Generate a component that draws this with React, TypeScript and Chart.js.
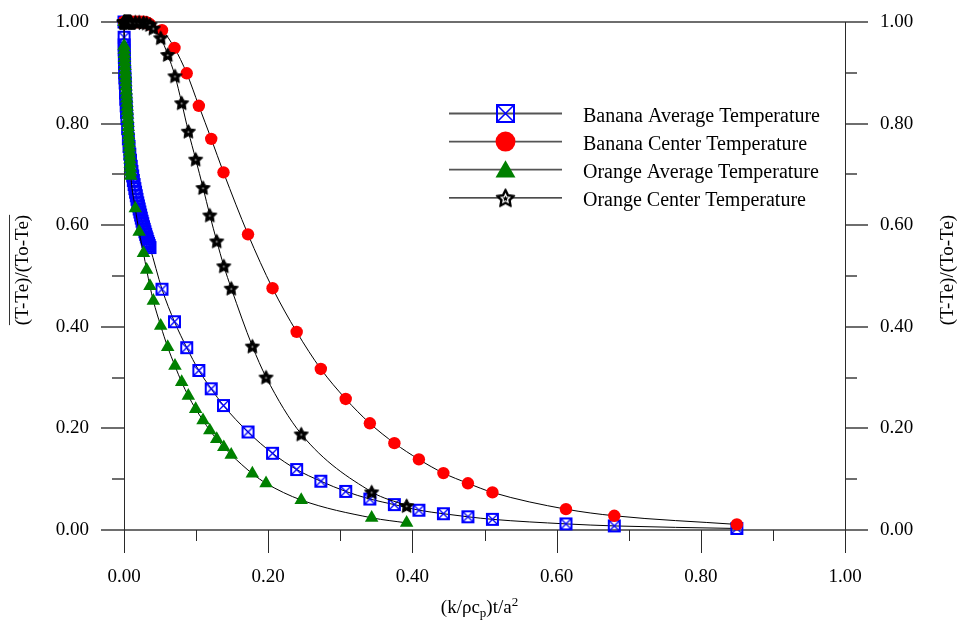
import React, { useEffect, useRef } from 'react';
import { Chart, registerables } from 'chart.js';

Chart.register(...registerables);

// ---------- data ----------
const bananaX = [
  0, 0.0001, 0.0002, 0.0003, 0.0005, 0.0007, 0.001, 0.0013, 0.0016, 0.002, 0.0025,
  0.003, 0.0035, 0.004, 0.005, 0.006, 0.007, 0.008, 0.009, 0.01, 0.011, 0.012,
  0.013, 0.014, 0.015, 0.016, 0.017, 0.018, 0.019, 0.02, 0.021, 0.022, 0.023,
  0.024, 0.025, 0.026, 0.027, 0.028, 0.029, 0.03, 0.031, 0.032, 0.033, 0.034,
  0.035, 0.036,
  0.0527, 0.07, 0.087, 0.1038, 0.121, 0.138, 0.172, 0.206, 0.2395, 0.273, 0.3075,
  0.341, 0.375, 0.409, 0.443, 0.477, 0.511, 0.613, 0.68, 0.85,
];
const bananaAverage = [
  1.0, 0.97, 0.955, 0.945, 0.93, 0.917, 0.9, 0.89, 0.88, 0.86, 0.848,
  0.835, 0.822, 0.81, 0.79, 0.77, 0.755, 0.74, 0.728, 0.716, 0.706, 0.697,
  0.688, 0.68, 0.672, 0.665, 0.658, 0.651, 0.644, 0.638, 0.632, 0.626, 0.62,
  0.614, 0.608, 0.603, 0.597, 0.592, 0.587, 0.582, 0.577, 0.573, 0.568, 0.564,
  0.56, 0.556,
  0.474, 0.41, 0.359, 0.314, 0.278, 0.245, 0.193, 0.151, 0.119, 0.096, 0.076,
  0.061, 0.05, 0.039, 0.032, 0.026, 0.021, 0.012, 0.008, 0.003,
];
const bananaCenter = [
  1.0, 1.0, 1.0, 1.0, 1.0, 1.0, 1.0, 1.0, 1.0, 1.0, 1.0,
  1.0, 1.0, 1.0, 1.0, 1.0, 1.0, 1.0, 1.0, 1.0, 1.0, 1.0,
  1.0, 1.0, 1.0, 1.0, 1.0, 1.0, 1.0, 1.0, 1.0, 1.0, 1.0,
  1.0, 1.0, 1.0, 1.0, 1.0, 1.0, 0.999, 0.999, 0.998, 0.998, 0.997,
  0.996, 0.995,
  0.984, 0.949, 0.899, 0.835, 0.77, 0.704, 0.582, 0.476, 0.39, 0.317, 0.258,
  0.21, 0.171, 0.139, 0.112, 0.092, 0.074, 0.041, 0.028, 0.011,
];
const orangeX = [
  0, 0.0002, 0.0004, 0.0006, 0.0008, 0.0011, 0.0014, 0.0017, 0.002, 0.0023, 0.0026,
  0.0029, 0.0032, 0.0035, 0.0038, 0.0041, 0.0044, 0.0047, 0.005, 0.0053, 0.0056,
  0.0059, 0.0062, 0.0065, 0.0068, 0.0071, 0.0074, 0.0077, 0.008, 0.0083, 0.0086,
  0.0089, 0.0092, 0.0095,
  0.0157, 0.021, 0.027, 0.0314, 0.036, 0.0407, 0.0509, 0.0606, 0.0707, 0.08, 0.0892,
  0.0994, 0.1096, 0.119, 0.1286, 0.1384, 0.1487, 0.178, 0.197, 0.2458, 0.3435, 0.392,
];
const orangeAverage = [
  1.0, 0.953, 0.945, 0.937, 0.929, 0.921, 0.913, 0.905, 0.897, 0.889, 0.881,
  0.873, 0.865, 0.857, 0.849, 0.841, 0.833, 0.825, 0.817, 0.809, 0.801,
  0.793, 0.785, 0.777, 0.769, 0.761, 0.753, 0.745, 0.737, 0.729, 0.721,
  0.713, 0.705, 0.697,
  0.633, 0.587, 0.545, 0.512, 0.48, 0.451, 0.402, 0.36, 0.323, 0.291, 0.264,
  0.238, 0.216, 0.196, 0.179, 0.163, 0.148, 0.111, 0.092, 0.059, 0.024, 0.014,
];
const orangeCenter = [
  1.0, 1.0, 1.0, 1.0, 1.0, 1.0, 1.0, 1.0, 1.0, 1.0, 1.0,
  1.0, 1.0, 1.0, 1.0, 1.0, 1.0, 1.0, 1.0, 1.0, 1.0,
  1.0, 1.0, 1.0, 1.0, 1.0, 1.0, 1.0, 1.0, 1.0, 1.0,
  1.0, 1.0, 1.0,
  1.0, 1.0, 0.999, 0.998, 0.995, 0.988, 0.969, 0.936, 0.894, 0.841, 0.785,
  0.73, 0.674, 0.62, 0.569, 0.52, 0.476, 0.362, 0.301, 0.189, 0.075, 0.048,
];
const seriesNames = [
  'Banana Average Temperature',
  'Banana Center Temperature',
  'Orange Average Temperature',
  'Orange Center Temperature',
];
const labelTicks = [0, 0.2, 0.4, 0.6, 0.8, 1.0];
const allTicks = [0, 0.1, 0.2, 0.3, 0.4, 0.5, 0.6, 0.7, 0.8, 0.9, 1.0];
const yTitle = '(T-Te)/(To-Te)';

const SERIF = '"Liberation Serif", "Times New Roman", serif';

// ---------- markers ----------
function makeBoxX(outer: number, lw: number, xlw: number) {
  const pad = 1;
  const s = outer + pad * 2;
  const c = document.createElement('canvas');
  c.width = s;
  c.height = s;
  const g = c.getContext('2d')!;
  g.strokeStyle = '#0000ff';
  g.lineWidth = lw;
  const o = pad + lw / 2;
  const e = pad + outer - lw / 2;
  g.strokeRect(o, o, e - o, e - o);
  g.lineWidth = xlw;
  g.beginPath();
  g.moveTo(o, o);
  g.lineTo(e, e);
  g.moveTo(e, o);
  g.lineTo(o, e);
  g.stroke();
  return c;
}

function starPath(g: CanvasRenderingContext2D, cx: number, cy: number, R: number, r: number) {
  g.beginPath();
  for (let i = 0; i < 10; i++) {
    const rad = i % 2 === 0 ? R : r;
    const a = -Math.PI / 2 + (i * Math.PI) / 5;
    const px = cx + rad * Math.cos(a);
    const py = cy + rad * Math.sin(a);
    if (i === 0) g.moveTo(px, py);
    else g.lineTo(px, py);
  }
  g.closePath();
}

function makeStar(R: number, legend: boolean) {
  const s = Math.ceil(R * 2 + 4);
  const c = document.createElement('canvas');
  c.width = s;
  c.height = s;
  const g = c.getContext('2d')!;
  const cx = s / 2;
  const cy = s / 2 + R * 0.1;
  g.fillStyle = '#000';
  g.strokeStyle = '#000';
  g.lineJoin = 'round';
  starPath(g, cx, cy, R, R * 0.5);
  g.fill();
  if (legend) {
    g.lineWidth = 1.5;
    g.stroke();
    g.fillStyle = '#fff';
    starPath(g, cx, cy, R * 0.62, R * 0.3);
    g.fill();
    g.fillStyle = '#000';
    starPath(g, cx, cy, R * 0.32, R * 0.15);
    g.fill();
  } else {
    g.lineWidth = 1;
    g.stroke();
    g.fillStyle = '#999';
    g.beginPath();
    g.arc(cx, cy, 1, 0, Math.PI * 2);
    g.fill();
  }
  return c;
}

function drawTriangle(ctx: CanvasRenderingContext2D, x: number, y: number, r: number) {
  ctx.beginPath();
  for (let i = 0; i < 3; i++) {
    const a = (i * 2 * Math.PI) / 3;
    const px = x + Math.sin(a) * r;
    const py = y - Math.cos(a) * r;
    if (i === 0) ctx.moveTo(px, py);
    else ctx.lineTo(px, py);
  }
  ctx.closePath();
  ctx.fill();
}

export default function App() {
  const ref = useRef<HTMLCanvasElement | null>(null);

  useEffect(() => {
    document.body.style.margin = '0';
    const canvas = ref.current!;
    const boxPt = makeBoxX(13, 2, 1.4);
    const boxLeg = makeBoxX(19, 2, 1.6);
    const starPt = makeStar(7.5, false);
    const starLeg = makeStar(9.5, true);

    const framePlugin = {
      id: 'frame',
      beforeDatasetsDraw(chart: any) {
        const { ctx, chartArea: a } = chart;
        const xs = chart.scales.x;
        const ys = chart.scales.y;
        ctx.save();
        // horizontal strokes
        ctx.strokeStyle = '#6e6e6e';
        ctx.lineWidth = 2;
        ctx.beginPath();
        const yTop = Math.round(a.top);
        const yBot = Math.round(a.bottom);
        ctx.moveTo(a.left, yTop);
        ctx.lineTo(a.right, yTop);
        ctx.moveTo(a.left, yBot);
        ctx.lineTo(a.right, yBot);
        allTicks.forEach((v, i) => {
          const y = Math.round(ys.getPixelForValue(v));
          const len = i % 2 === 0 ? 23 : 12;
          ctx.moveTo(a.left - len, y);
          ctx.lineTo(a.left, y);
          ctx.moveTo(a.right, y);
          ctx.lineTo(a.right + len, y);
        });
        ctx.stroke();
        // vertical strokes
        ctx.strokeStyle = '#2a2a2a';
        ctx.lineWidth = 1;
        ctx.beginPath();
        const xl = Math.round(a.left) + 0.5;
        const xr = Math.round(a.right) + 0.5;
        ctx.moveTo(xl, a.top);
        ctx.lineTo(xl, a.bottom);
        ctx.moveTo(xr, a.top);
        ctx.lineTo(xr, a.bottom);
        allTicks.forEach((v, i) => {
          const x = Math.round(xs.getPixelForValue(v)) + 0.5;
          const len = i % 2 === 0 ? 23 : 11;
          ctx.moveTo(x, a.bottom);
          ctx.lineTo(x, a.bottom + len);
        });
        ctx.stroke();
        ctx.restore();
      },
      afterDraw(chart: any) {
        const { ctx, chartArea: a } = chart;
        ctx.save();
        ctx.fillStyle = '#000';
        // x title with sub/superscript
        const big = `19px ${SERIF}`;
        const small = `13px ${SERIF}`;
        const parts: [string, string, number][] = [
          ['(k/\u03c1c', big, 0],
          ['p', small, 4],
          [')t/a', big, 0],
          ['2', small, -7],
        ];
        let total = 0;
        parts.forEach(([t, f]) => {
          ctx.font = f;
          total += ctx.measureText(t).width;
        });
        let x = (a.left + a.right) / 2 - 5 - total / 2;
        const baseY = 613;
        ctx.textBaseline = 'alphabetic';
        ctx.textAlign = 'left';
        parts.forEach(([t, f, dy]) => {
          ctx.font = f;
          ctx.fillText(t, x, baseY + dy);
          x += ctx.measureText(t).width;
        });

        // y titles
        ctx.font = big;
        const w = ctx.measureText(yTitle).width;
        const cy = 270;
        ctx.textAlign = 'center';
        ctx.textBaseline = 'middle';
        ctx.save();
        ctx.translate(23, cy);
        ctx.rotate(-Math.PI / 2);
        ctx.fillText(yTitle, 0, 0);
        ctx.restore();
        ctx.strokeStyle = '#333';
        ctx.lineWidth = 1;
        ctx.beginPath();
        ctx.moveTo(9.5, cy - w / 2);
        ctx.lineTo(9.5, cy + w / 2);
        ctx.stroke();
        ctx.save();
        ctx.translate(948, cy);
        ctx.rotate(-Math.PI / 2);
        ctx.fillText(yTitle, 0, 0);
        ctx.restore();

        // legend
        const rowY0 = 113.5;
        const rowStep = 28.1;
        ctx.font = `20px ${SERIF}`;
        ctx.textAlign = 'left';
        ctx.textBaseline = 'alphabetic';
        seriesNames.forEach((name, i) => {
          const y = rowY0 + i * rowStep;
          ctx.strokeStyle = i === 3 ? '#111' : '#555';
          ctx.lineWidth = i === 3 ? 1.3 : 1.8;
          ctx.beginPath();
          ctx.moveTo(449, y);
          ctx.lineTo(562, y);
          ctx.stroke();
          const mx = 505.5;
          if (i === 0) {
            ctx.drawImage(boxLeg, mx - boxLeg.width / 2, y - boxLeg.height / 2);
          } else if (i === 1) {
            ctx.fillStyle = '#ff0000';
            ctx.beginPath();
            ctx.arc(mx, y, 10, 0, Math.PI * 2);
            ctx.fill();
          } else if (i === 2) {
            ctx.fillStyle = '#008000';
            drawTriangle(ctx, mx, y + 2, 11.5);
          } else {
            ctx.drawImage(starLeg, mx - starLeg.width / 2, y - starLeg.height / 2);
          }
          ctx.fillStyle = '#000';
          ctx.fillText(name, 583, y + 8.3);
        });
        ctx.restore();
      },
    };

    const tickFont = { family: SERIF, size: 19 };
    const fmt = (v: any) => Number(v).toFixed(2);
    const setTicks = (s: any) => {
      s.ticks = labelTicks.map((v) => ({ value: v }));
    };

    const mk = (xs: number[], ys: number[]) => xs.map((x, i) => ({ x, y: ys[i] }));

    const common = {
      borderColor: '#000',
      borderWidth: 1,
      cubicInterpolationMode: 'monotone',
      clip: false,
      pointBorderWidth: 0,
      yAxisID: 'y',
    };

    const chart = new Chart(canvas, {
      type: 'line',
      data: {
        datasets: [
          {
            ...common,
            label: seriesNames[0],
            data: mk(bananaX, bananaAverage),
            pointStyle: boxPt as any,
            pointRadius: 6,
            order: 3,
          },
          {
            ...common,
            label: seriesNames[1],
            data: mk(bananaX, bananaCenter),
            pointStyle: 'circle',
            pointRadius: 6.2,
            pointBackgroundColor: '#ff0000',
            pointBorderColor: '#ff0000',
            order: 2,
          },
          {
            ...common,
            label: seriesNames[2],
            data: mk(orangeX, orangeAverage),
            pointStyle: 'triangle',
            pointRadius: 7.8,
            pointBackgroundColor: '#008000',
            pointBorderColor: '#008000',
            order: 1,
          },
          {
            ...common,
            label: seriesNames[3],
            data: mk(orangeX, orangeCenter),
            pointStyle: starPt as any,
            pointRadius: 6,
            order: 0,
          },
        ] as any,
      },
      options: {
        animation: false,
        responsive: false,
        events: [],
        layout: { padding: { top: 22, left: 0, right: 0, bottom: 0 } },
        plugins: {
          legend: { display: false },
          tooltip: { enabled: false },
        },
        scales: {
          x: {
            type: 'linear',
            position: 'bottom',
            min: 0,
            max: 1,
            afterFit: (s: any) => {
              s.height = 92;
              s.paddingLeft = 0;
              s.paddingRight = 0;
              s.paddingTop = 0;
              s.paddingBottom = 0;
            },
            afterBuildTicks: setTicks,
            grid: { display: false, drawTicks: false },
            border: { display: false },
            ticks: {
              autoSkip: false,
              maxRotation: 0,
              minRotation: 0,
              padding: 36,
              font: tickFont,
              color: '#000',
              callback: fmt,
            },
          },
          y: {
            type: 'linear',
            position: 'left',
            min: 0,
            max: 1,
            afterFit: (s: any) => {
              s.width = 124;
              s.paddingTop = 0;
              s.paddingBottom = 0;
              s.paddingLeft = 0;
              s.paddingRight = 0;
            },
            afterBuildTicks: setTicks,
            grid: { display: false, drawTicks: false },
            border: { display: false },
            ticks: { padding: 35, font: tickFont, color: '#000', callback: fmt },
          },
          y2: {
            type: 'linear',
            position: 'right',
            min: 0,
            max: 1,
            afterFit: (s: any) => {
              s.width = 112;
              s.paddingTop = 0;
              s.paddingBottom = 0;
              s.paddingLeft = 0;
              s.paddingRight = 0;
            },
            afterBuildTicks: setTicks,
            grid: { display: false, drawTicks: false },
            border: { display: false },
            ticks: { padding: 35, font: tickFont, color: '#000', callback: fmt },
          },
        } as any,
      },
      plugins: [framePlugin as any],
    });

    return () => {
      chart.destroy();
    };
  }, []);

  return (
    <div style={{ width: 957, height: 622, background: '#fff' }}>
      <canvas ref={ref} width={957} height={622} style={{ display: 'block' }} />
    </div>
  );
}
